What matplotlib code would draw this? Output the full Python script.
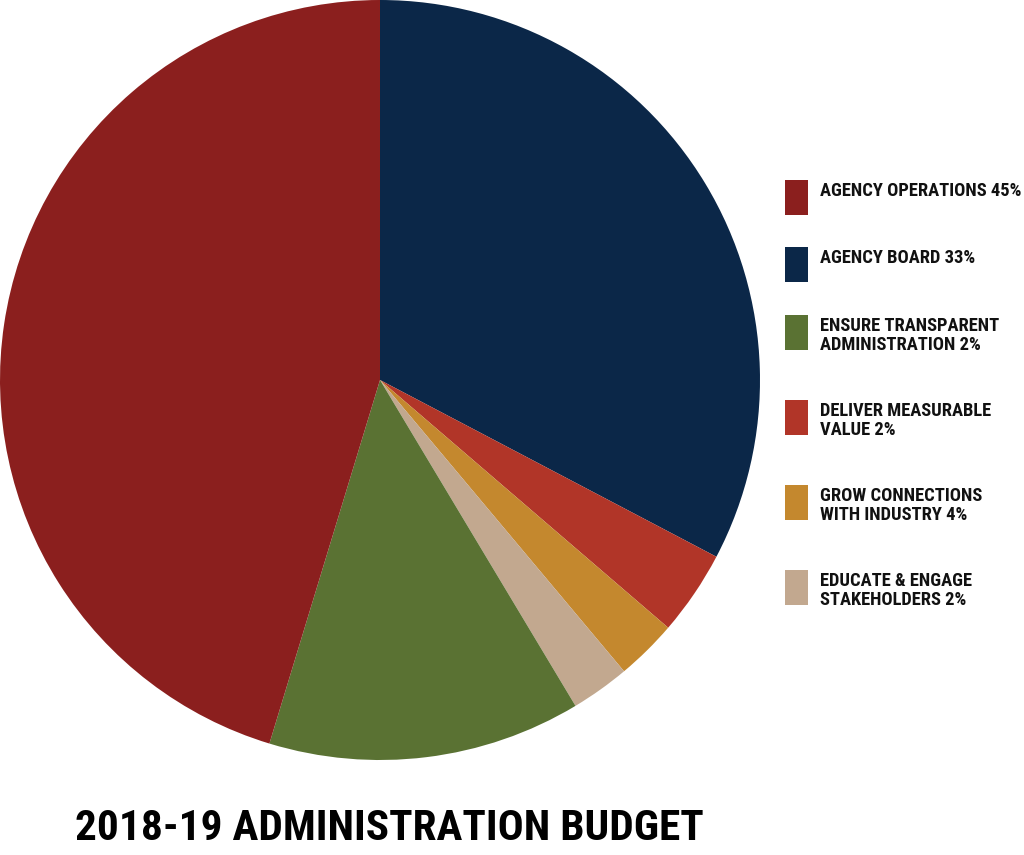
"""
    2018-19 administration budget pie chart.
"""

import matplotlib
matplotlib.use("Agg")
import matplotlib.pyplot as plt
from matplotlib.patches import Rectangle

# slices in drawing order, clockwise from 12 o'clock
slice_names = ["Agency Board", "Deliver Measurable Value", "Grow Connections",
               "Educate & Engage", "Ensure Transparent", "Agency Operations"]
slice_values = [32.7, 3.6, 2.6, 2.5, 13.3, 45.3]
slice_colors = ["#0b2748", "#b13528", "#c4882e", "#c2a88f", "#5a7233", "#8b1f1e"]

# legend entries, top to bottom
legend_labels = ["AGENCY OPERATIONS 45%", "AGENCY BOARD 33%",
                 "ENSURE TRANSPARENT\nADMINISTRATION 2%", "DELIVER MEASURABLE\nVALUE 2%",
                 "GROW CONNECTIONS\nWITH INDUSTRY 4%", "EDUCATE & ENGAGE\nSTAKEHOLDERS 2%"]
legend_colors = ["#8b1f1e", "#0b2748", "#5a7233", "#b13528", "#c4882e", "#c2a88f"]

TITLE = "2018-19 ADMINISTRATION BUDGET"

W, H = 1024, 855
# narrow faces first, if any of them is there
FONT = ["Roboto Condensed", "Liberation Sans Narrow", "Liberation Sans", "DejaVu Sans"]


def fit_width(fig, txt, target_px):
    # shrink/grow a text so it spans target_px horizontally
    fig.canvas.draw()
    bb = txt.get_window_extent(fig.canvas.get_renderer())
    txt.set_fontsize(txt.get_fontsize() * target_px / bb.width)
    return txt.get_fontsize()


fig = plt.figure(figsize=(W / 100, H / 100), dpi=100)
ax = fig.add_axes([0, 95 / H, 760 / W, 760 / H])
ax.pie(slice_values, colors=slice_colors, startangle=90, counterclock=False,
       radius=1.0, wedgeprops=dict(linewidth=0))
ax.set_xlim(-1, 1)
ax.set_ylim(-1, 1)
ax.set_aspect("equal")
ax.axis("off")

# legend drawn by hand (pixel positions from top)
box_tops = [180, 247, 315, 400, 485, 570]
texts = []
for top, label, color in zip(box_tops, legend_labels, legend_colors):
    fig.add_artist(Rectangle((785 / W, 1 - (top + 35) / H), 23 / W, 35 / H,
                             facecolor=color, edgecolor="none", transform=fig.transFigure))
    t = fig.text(820 / W, 1 - (top + 2) / H, label, ha="left", va="top",
                 fontsize=14, family=FONT, fontweight="bold", fontstretch="condensed",
                 linespacing=1.1, color="#111111")
    texts.append(t)
fs = fit_width(fig, texts[0], 202)
for t in texts[1:]:
    t.set_fontsize(fs)

title = fig.text(75 / W, 1 - 840 / H, TITLE, ha="left", va="baseline",
                 fontsize=30, family=FONT, fontweight="bold", fontstretch="condensed",
                 color="#000000")
fit_width(fig, title, 628)

plt.savefig("out.png", dpi=100)
